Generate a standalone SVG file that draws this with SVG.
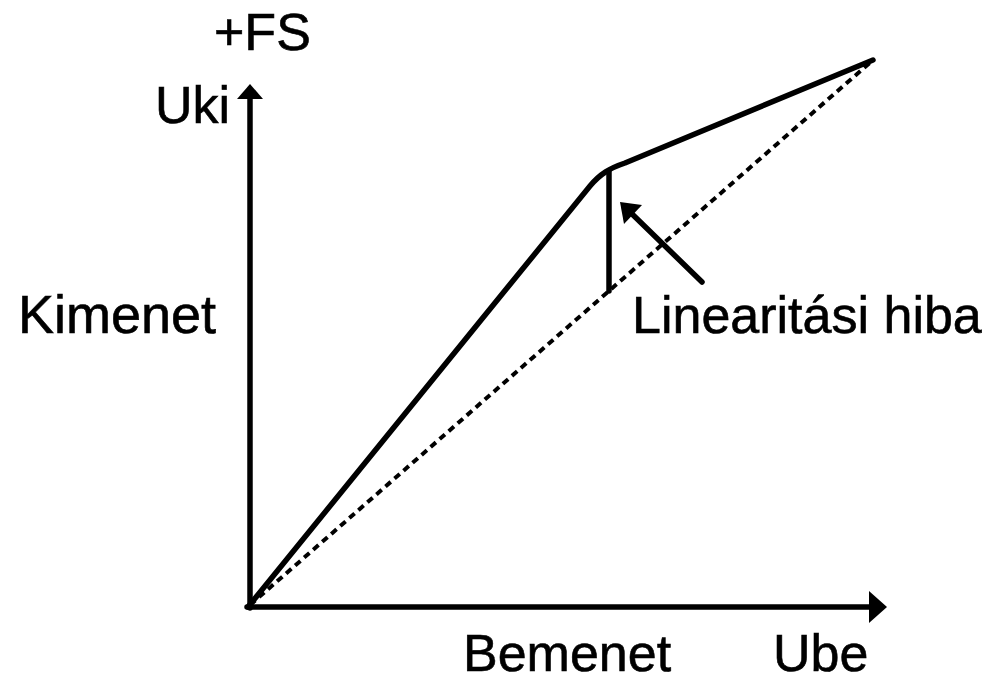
<svg xmlns="http://www.w3.org/2000/svg" width="995" height="682" viewBox="0 0 995 682">
<style>
.t{font-family:"Liberation Sans",Arial,sans-serif;font-size:52px;fill:#000;stroke:#000;stroke-width:0.6}
.ln{stroke:#000;stroke-width:5.5;fill:none;stroke-linecap:round;stroke-linejoin:round}
.ds{stroke:#000;stroke-width:4;fill:none;stroke-dasharray:7 5}
.hd{fill:#000;stroke:none}
</style>
<rect width="995" height="682" fill="#fff"/>
<g id="connectors">
<line class="ln" x1="250" y1="608" x2="250" y2="96"/>
<polygon class="hd" points="250,84 237,99 263,99"/>
<line class="ln" x1="247" y1="607" x2="872" y2="607"/>
<polygon class="hd" points="887,607 869,591 869,623"/>
<path class="ds" d="M250,605 L873,60"/>
<path class="ln" d="M248,607 L590,186 C600,174 610,168 625,163 L873,60"/>
<line class="ln" x1="609" y1="171" x2="609" y2="291"/>
<line class="ln" x1="702" y1="282" x2="630" y2="212"/>
<polygon class="hd" points="620,202 642,205 624,224"/>
</g>
<g id="labels">
<text class="t" x="214" y="50">+FS</text>
<text class="t" x="230" y="123" text-anchor="end">Uki</text>
<text class="t" x="18" y="333" style="font-size:54px">Kimenet</text>
<text class="t" x="632" y="333">Linearitási hiba</text>
<text class="t" x="463" y="671">Bemenet</text>
<text class="t" x="773" y="671">Ube</text>
</g>
</svg>
